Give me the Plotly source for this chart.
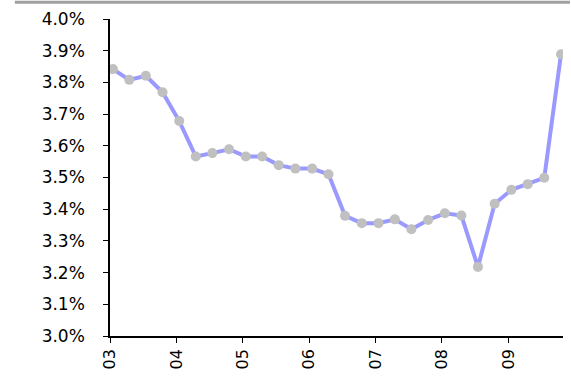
import pandas as pd
import plotly.graph_objects as go

# Quarterly observations (percent)
rates = [3.842, 3.808, 3.821, 3.769, 3.678, 3.566, 3.577, 3.589, 3.566, 3.566,
         3.539, 3.528, 3.528, 3.510, 3.379, 3.356, 3.356, 3.368, 3.337, 3.366,
         3.387, 3.380, 3.218, 3.417, 3.461, 3.479, 3.499, 3.889]
dates = pd.date_range("2003-01-17", periods=len(rates), freq=pd.DateOffset(months=3))

year_ticks = [f"{y}-01-01" for y in range(2003, 2010)]
year_labels = ["03", "04", "05", "06", "07", "08", "09"]
y_ticks = [3.0 + 0.1 * i for i in range(11)]
y_labels = [f"{v:.1f}%" for v in y_ticks]

font = dict(family="DejaVu Sans", size=16, color="black")
yfont = dict(family="DejaVu Sans", size=17, color="black")

fig = go.Figure()
fig.add_trace(go.Scatter(
    x=dates, y=rates, mode="lines+markers",
    line=dict(color="#9999ff", width=4),
    marker=dict(color="#c0c0c0", size=10, line=dict(width=0)),
    showlegend=False, hoverinfo="skip",
))

fig.update_layout(
    width=571, height=378,
    margin=dict(l=110, r=8, t=19, b=42),
    plot_bgcolor="white", paper_bgcolor="white",
    font=font,
    xaxis=dict(
        type="date", range=["2003-01-01", "2009-10-28"],
        tickvals=year_ticks, ticktext=year_labels, tickangle=-90,
        showgrid=False, zeroline=False,
        showline=True, linecolor="black", linewidth=1.5,
        ticks="outside", ticklen=5, tickcolor="black", tickwidth=1,
        tickfont=font,
    ),
    yaxis=dict(
        range=[3.0, 4.0], tickvals=y_ticks, ticktext=y_labels,
        showgrid=False, zeroline=False,
        showline=True, linecolor="black", linewidth=1.5,
        ticks="outside", ticklen=5, tickcolor="black", tickwidth=1,
        tickfont=yfont, ticklabelstandoff=15,
    ),
    shapes=[dict(
        type="line", xref="paper", yref="paper",
        x0=-0.21, x1=1.0155, y0=1.053, y1=1.053,
        line=dict(color="#a0a0a0", width=3),
    )],
)

fig.write_html("out.html")
